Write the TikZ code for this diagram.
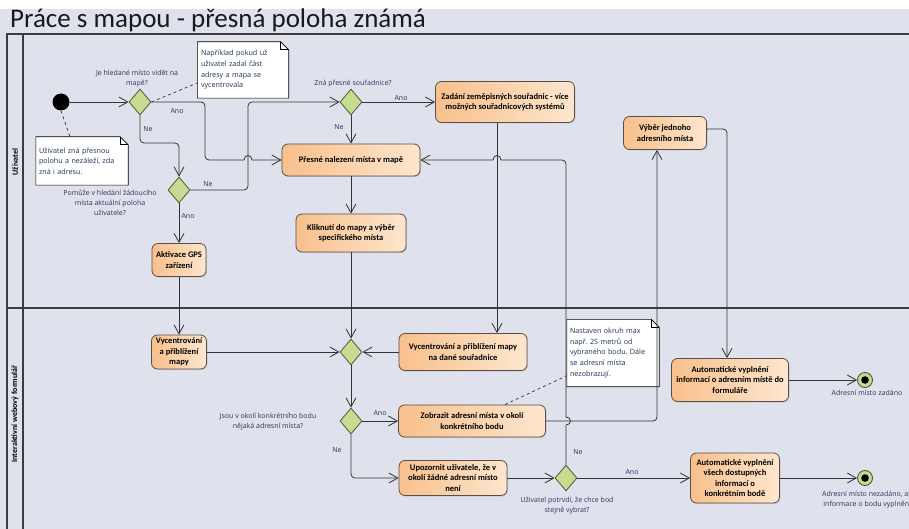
\documentclass[tikz,border=0pt]{standalone}
\usepackage{fontspec}
\setmainfont{Carlito}
\newfontfamily\lblfont{Open Sans}
\frenchspacing
\usetikzlibrary{arrows.meta,shapes.geometric,shadows}
\pgfdeclarelayer{back}
\pgfdeclarelayer{notebg}
\pgfsetlayers{back,notebg,main}

\definecolor{lanebg}{HTML}{DFE2EC}
\definecolor{framec}{HTML}{3C3C3C}
\definecolor{actL}{HTML}{F8C08C}
\definecolor{actR}{HTML}{FDE6CE}
\definecolor{actborder}{HTML}{5A4E46}
\definecolor{decfill}{HTML}{C6DC90}
\definecolor{decborder}{HTML}{4E5838}
\definecolor{flowc}{HTML}{333333}
\definecolor{lbltext}{HTML}{2C3359}
\definecolor{notetext}{HTML}{22305A}

\tikzset{
  act/.style={rectangle, rounded corners=6pt, draw=actborder, line width=0.8pt,
    left color=actL, right color=actR, align=center, text=black, inner sep=1pt,
    font=\bfseries\fontsize{8.5}{10.6}\selectfont,
    drop shadow={shadow xshift=1pt, shadow yshift=-1pt, opacity=0.25}},
  dec/.style={diamond, draw=decborder, fill=decfill, line width=0.8pt,
    minimum width=22pt, minimum height=26pt, inner sep=0pt},
  lbl/.style={font=\lblfont\fontsize{7}{10}\selectfont, text=lbltext, align=center, inner sep=0pt},
  notetxt/.style={font=\lblfont\fontsize{7.2}{10.6}\selectfont, text=notetext, align=left, inner sep=0pt},
  flow/.style={draw=flowc, line width=0.8pt, -{Straight Barb[length=9pt,width=10pt]}},
  framec/.style={draw=framec, line width=1.2pt},
  notelink/.style={draw=flowc, line width=0.7pt, dashed},
  lanetitle/.style={rotate=90, font=\bfseries\fontsize{8}{9}\selectfont, inner sep=0pt},
  finalnode/.style={circle, draw=decborder, fill=decfill, line width=0.9pt,
    minimum size=15pt, inner sep=0pt,
    path picture={\fill[black] (path picture bounding box.center) circle[radius=3.8pt];}}
}

% white note with a folded top-right corner, behind the note's text
\newcommand\drawnote[1]{%
  \begin{pgfonlayer}{notebg}
    \draw[fill=white, draw=black, line width=0.6pt]
      (#1.south west) -- (#1.north west) -- ([xshift=-8pt]#1.north east)
      -- ([yshift=-8pt]#1.north east) -- (#1.south east) -- cycle;
    \draw[black, line width=0.6pt] ([xshift=-8pt]#1.north east)
      -- ([xshift=-8pt,yshift=-8pt]#1.north east) -- ([yshift=-8pt]#1.north east);
  \end{pgfonlayer}}

\begin{document}
\begin{tikzpicture}[x=1pt,y=-1pt]
\useasboundingbox (0,0) rectangle (909,529);
\begin{pgfonlayer}{back}
  \fill[white] (0,0) rectangle (909,529);
  \fill[lanebg] (0,9) rectangle (909,529);
\end{pgfonlayer}

% title
\node[anchor=base west, inner sep=0pt, font=\fontsize{27}{30}\selectfont, text=black!90]
  (title) at (10,28) {Práce s mapou - přesná poloha známá};

% swimlane frame
\draw[framec] (7,529) -- (7,34) -- (909,34);
\draw[framec] (23,34) -- (23,529);
\draw[framec] (7,308) -- (909,308);
\node[lanetitle] (laneU) at (15,162) {Uživatel};
\node[lanetitle] (laneW) at (15,414) {Interaktivní webový formulář};

% start node and decisions
\node[circle, fill=black, minimum size=17pt, inner sep=0pt] (start) at (61,102) {};
\node[dec] (d1) at (140,102) {};
\node[dec] (d2) at (351,102) {};
\node[dec] (d3) at (179,190) {};
\node[dec] (d4) at (351,352) {};
\node[dec] (d5) at (351,421) {};
\node[dec] (d6) at (566,478) {};

% activities
\node[act, minimum width=54pt, minimum height=33pt] (gps) at (179,260) {Aktivace GPS\\zařízení};
\node[act, minimum width=55pt, minimum height=34pt] (vyc1) at (179,352) {Vycentrování\\a přiblížení\\mapy};
\node[act, minimum width=138pt, minimum height=32pt] (pres) at (351,160) {Přesné nalezení místa v mapě};
\node[act, minimum width=110pt, minimum height=38pt] (klik) at (351,233) {Kliknutí do mapy a výběr\\specifického místa};
\node[act, minimum width=139pt, minimum height=41pt] (zad) at (505,102) {Zadání zeměpisných souřadnic - více\\možných souřadnicových systémů};
\node[act, minimum width=128pt, minimum height=37pt] (vyc2) at (463,352) {Vycentrování a přiblížení mapy\\na dané souřadnice};
\node[act, minimum width=147pt, minimum height=32pt] (zob) at (472,421) {Zobrazit adresní místa v okolí\\konkrétního bodu};
\node[act, minimum width=108pt, minimum height=35pt] (upo) at (453,478) {Upozornit uživatele, že v\\okolí žádné adresní místo\\není};
\node[act, minimum width=83pt, minimum height=33pt] (vyb) at (665,133) {Výběr jednoho\\adresního místa};
\node[act, minimum width=117pt, minimum height=43pt] (aut1) at (730,380) {Automatické vyplnění\\informací o adresním místě do\\formuláře};
\node[act, minimum width=89pt, minimum height=50pt] (aut2) at (735,478) {Automatické vyplnění\\všech dostupných\\informací o\\konkrétním bodě};

% final nodes
\node[finalnode] (fin1) at (865,380) {};
\node[finalnode] (fin2) at (865,478) {};

% notes
\node[notetxt, minimum width=91pt, minimum height=56pt, text width=84pt] (n1) at (243,70)
  {Například pokud už\\uživatel zadal část\\adresy a mapa se\\vycentrovala};
\drawnote{n1}
\node[notetxt, minimum width=92pt, minimum height=48pt, text width=86pt] (n2) at (82,161)
  {Uživatel zná přesnou\\polohu a nezáleží, zda\\zná i adresu.};
\drawnote{n2}
\node[notetxt, minimum width=92pt, minimum height=67pt, text width=86pt] (n3) at (613,353)
  {Nastaven okruh max\\např. 25 metrů od\\vybraného bodu. Dále\\se adresní místa\\nezobrazují.};
\drawnote{n3}

% note links
\draw[notelink] (d1.east) -- ([yshift=-13pt]n1.west);
\draw[notelink] (start.south) -- ([xshift=-12pt]n2.north);
\draw[notelink] ([xshift=33pt]zob.north) -- ([yshift=11pt]n3.south west);

% labels
\node[lbl] (q1) at (137,79) {Je hledané místo vidět na\\mapě?};
\node[lbl] (q2) at (353,84) {Zná přesné souřadnice?};
\node[lbl] (q3) at (110,203) {Pomůže v hledání žádoucího\\místa aktuální poloha\\uživatele?};
\node[lbl] (q5) at (268,422) {Jsou v okolí konkrétního bodu\\nějaká adresní místa?};
\node[lbl] (q6) at (567,506) {Uživatel potrvdí, že chce bod\\stejně vybrat?};
\node[lbl] (e1) at (867,393) {Adresní místo zadáno};
\node[lbl] (e2) at (868,500) {Adresní místo nezadáno, ale\\informace o bodu vyplněny};
\node[lbl] (a1) at (177,111) {Ano};
\node[lbl] (b1) at (148,129) {Ne};
\node[lbl] (b3) at (208,184) {Ne};
\node[lbl] (a3) at (188,216) {Ano};
\node[lbl] (a2) at (401,98) {Ano};
\node[lbl] (b2) at (339,127) {Ne};
\node[lbl] (a5) at (380,413) {Ano};
\node[lbl] (b5) at (337,450) {Ne};
\node[lbl] (b6) at (578,452) {Ne};
\node[lbl] (a6) at (632,472) {Ano};

% control flow
\draw[flow] (start) -- (d1);
\draw[flow] (d1.east) [rounded corners=4pt] -- (205,102) -- (205,160) -- (225,160)
  [sharp corners] -- (244,160) .. controls (244,154) and (252,154) .. (252,160) -- (pres.west);
\draw[flow, rounded corners=4pt] (d1.south) -- (140,143) -- (179,143) -- (d3.north);
\draw[flow, rounded corners=4pt] (d3.east) -- (248,190) -- (248,102) -- (d2.west);
\draw[flow] (d3.south) -- (gps.north);
\draw[flow] (gps.south) -- (vyc1.north);
\draw[flow] (vyc1.east) -- (d4.west);
\draw[flow] (d2.east) -- (zad.west);
\draw[flow] (d2.south) -- (pres.north);
\draw[flow] (pres.south) -- (klik.north);
\draw[flow] (klik.south) -- (d4.north);
\draw[flow] ([xshift=-8pt]zad.south) -- ([xshift=-8pt]zad.south |- vyc2.north);
\draw[flow] (vyc2.west) -- (d4.east);
\draw[flow] (d4.south) -- (d5.north);
\draw[flow] (d5.east) -- (zob.west);
\draw[flow, rounded corners=4pt] (d5.south) |- (upo.west);
\draw[flow] (upo.east) -- (d6.west);
\draw[flow] (d6.north) -- (566,425) .. controls (572,425) and (572,417) .. (566,417)
  [rounded corners=4pt] -- (566,300) -- (566,160) -- (520,160)
  [sharp corners] -- (501,160) .. controls (501,154) and (493,154) .. (493,160) -- (pres.east);
\draw[flow] (d6.east) -- (aut2.west);
\draw[flow, rounded corners=4pt] (zob.east) -| ([xshift=-8pt]vyb.south);
\draw[flow, rounded corners=4pt] ([yshift=4pt]vyb.east) -| ([xshift=-3pt]aut1.north);
\draw[flow] (aut1.east) -- (fin1.west);
\draw[flow] (aut2.east) -- (fin2.west);
\end{tikzpicture}
\end{document}
